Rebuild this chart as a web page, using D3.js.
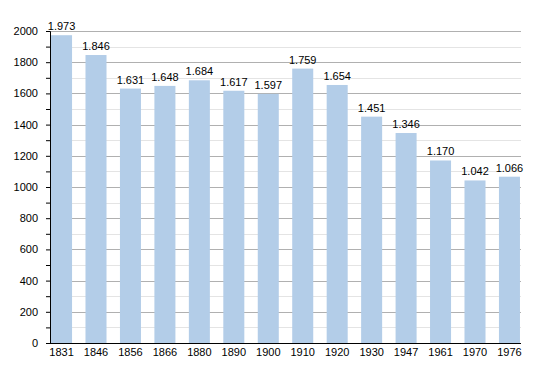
<!DOCTYPE html>
<html>
<head>
<meta charset="utf-8">
<script src="https://cdn.jsdelivr.net/npm/d3@7"></script>
<style>
  body { margin: 0; background: #fff; }
  text { font-family: "Liberation Sans", Arial, sans-serif; font-size: 11px; fill: #000; }
</style>
</head>
<body>
<div id="chart"></div>
<script>
const width = 550;
const height = 373;

// data
const years = ["1831", "1846", "1856", "1866", "1880", "1890", "1900", "1910", "1920", "1930", "1947", "1961", "1970", "1976"];
const population = [1973, 1846, 1631, 1648, 1684, 1617, 1597, 1759, 1654, 1451, 1346, 1170, 1042, 1066];
const labels = ["1.973", "1.846", "1.631", "1.648", "1.684", "1.617", "1.597", "1.759", "1.654", "1.451", "1.346", "1.170", "1.042", "1.066"];
const yTicks = [0, 200, 400, 600, 800, 1000, 1200, 1400, 1600, 1800, 2000];
const yMinor = d3.range(100, 2000, 200);

const plotLeft = 50, plotRight = 521, plotTop = 31, plotBottom = 343;

const svg = d3.select("#chart")
  .append("svg")
  .attr("width", width)
  .attr("height", height);

const x = d3.scaleBand()
  .domain(years)
  .range([plotLeft, plotRight])
  .paddingInner(0.39)
  .paddingOuter(0.03);

const y = d3.scaleLinear()
  .domain([0, 2000])
  .range([plotBottom, plotTop]);

// grid lines
svg.selectAll(".minor")
  .data(yMinor)
  .enter().append("line")
  .attr("x1", plotLeft).attr("x2", plotRight)
  .attr("y1", d => Math.round(y(d)) + 0.5).attr("y2", d => Math.round(y(d)) + 0.5)
  .attr("stroke", "#e4e4e4");

svg.selectAll(".major")
  .data(yTicks.filter(d => d > 0))
  .enter().append("line")
  .attr("x1", plotLeft).attr("x2", plotRight)
  .attr("y1", d => Math.round(y(d)) + 0.5).attr("y2", d => Math.round(y(d)) + 0.5)
  .attr("stroke", "#b0b0b0");

// bars
svg.selectAll(".bar")
  .data(population)
  .enter().append("rect")
  .attr("x", (d, i) => x(years[i]))
  .attr("width", x.bandwidth())
  .attr("y", d => y(d))
  .attr("height", d => plotBottom - y(d))
  .attr("fill", "#b3cde8");

// value labels
svg.selectAll(".val")
  .data(population)
  .enter().append("text")
  .attr("x", (d, i) => x(years[i]) + x.bandwidth() / 2)
  .attr("y", d => y(d) - 5)
  .attr("text-anchor", "middle")
  .text((d, i) => labels[i]);

// axes
const yAxis = svg.append("g")
  .attr("transform", `translate(${plotLeft},0)`)
  .call(d3.axisLeft(y).tickValues(d3.range(0, 2001, 100)).tickSize(4).tickFormat(d => yTicks.includes(d) ? d : ""));
yAxis.select(".domain").attr("stroke", "#000");
yAxis.selectAll(".tick line").attr("stroke", "#000");
yAxis.selectAll(".tick text").attr("x", -12).style("font-family", "Liberation Sans, Arial, sans-serif").style("font-size", "11px");

const xAxis = svg.append("g")
  .attr("transform", `translate(0,${plotBottom})`)
  .call(d3.axisBottom(x).tickSize(0).tickPadding(5));
xAxis.select(".domain").attr("stroke", "#000").attr("d", `M${plotLeft},0.5H${plotRight}`);
xAxis.selectAll(".tick text").style("font-family", "Liberation Sans, Arial, sans-serif").style("font-size", "11px");
</script>
</body>
</html>
